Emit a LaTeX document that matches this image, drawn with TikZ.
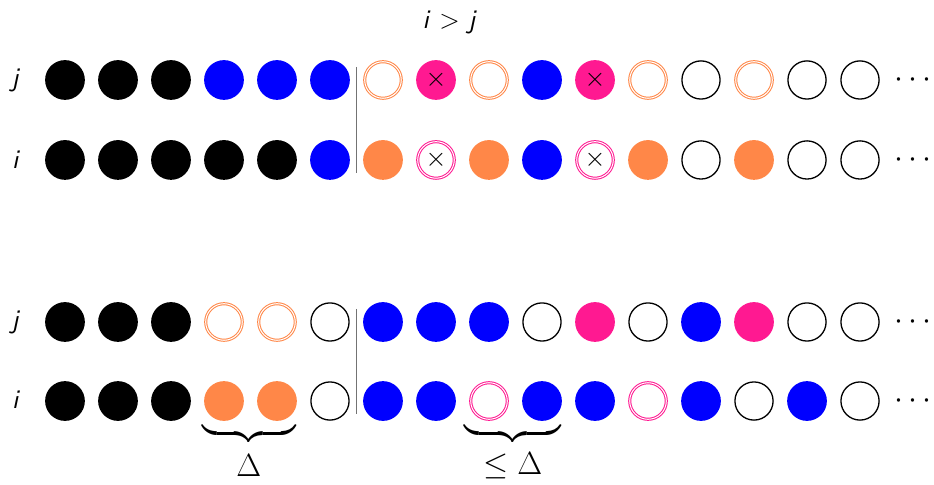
\documentclass[tikz,border=0pt]{standalone}
\usepackage{amsmath}
\definecolor{dotblue}{RGB}{0,0,255}
\definecolor{dotpink}{RGB}{255,25,145}
\definecolor{dotorange}{RGB}{255,135,72}
\tikzset{
  ball/.style={circle, minimum size=0.75cm, inner sep=0pt},
  bk/.style={ball, fill=black},
  bl/.style={ball, fill=dotblue},
  og/.style={ball, fill=dotorange},
  pk/.style={ball, fill=dotpink},
  wh/.style={ball, minimum size=0.72cm, draw=black, line width=0.7pt},
  ogr/.style={ball, minimum size=0.69cm, draw=dotorange, double=white, line width=0.55pt, double distance=0.55pt},
  pkr/.style={ogr, draw=dotpink},
  cross/.style={label={[inner sep=0pt, font=\Large]center:$\times$}},
  pkx/.style={pk, cross},
  pkrx/.style={pkr, cross},
  rowlabel/.style={font=\Large\sffamily\itshape},
  dots/.style={font=\LARGE},
  sep/.style={draw=black!55, line width=1pt},
  brc/.style={font=\LARGE, inner sep=0pt, anchor=north},
}
\begin{document}
\begin{tikzpicture}[x=1cm,y=1cm]
\useasboundingbox (-1.226,-7.623) rectangle (16.396,1.509);
\node[font=\Large] (cond) at (7.26,1.09) {\textsf{\itshape i} $>$ \textsf{\itshape j}};
% upper pair
\node[rowlabel] (lj1) at (-0.94,0) {j};
\node[rowlabel] (li1) at (-0.94,-1.5) {i};
\foreach \s [count=\k from 0] in {bk,bk,bk,bl,bl,bl,ogr,pkx,ogr,bl,pkx,ogr,wh,ogr,wh,wh}
  \node[\s] (tj\k) at (\k,0) {};
\foreach \s [count=\k from 0] in {bk,bk,bk,bk,bk,bl,og,pkrx,og,bl,pkrx,og,wh,og,wh,wh}
  \node[\s] (ti\k) at (\k,-1.509) {};
\node[dots] (tjd) at (16.05,0) {$\cdots$};
\node[dots] (tid) at (16.05,-1.509) {$\cdots$};
\coordinate (s1a) at (5.5,0.245);
\coordinate (s1b) at (5.5,-1.755);
\draw[sep] (s1a) -- (s1b);
% lower pair
\node[rowlabel] (lj2) at (-0.94,-4.566) {j};
\node[rowlabel] (li2) at (-0.94,-6.03) {i};
\foreach \s [count=\k from 0] in {bk,bk,bk,ogr,ogr,wh,bl,bl,bl,wh,pk,wh,bl,pk,wh,wh}
  \node[\s] (bj\k) at (\k,-4.566) {};
\foreach \s [count=\k from 0] in {bk,bk,bk,og,og,wh,bl,bl,pkr,bl,bl,pkr,bl,wh,bl,wh}
  \node[\s] (bi\k) at (\k,-6.057) {};
\node[dots] (bjd) at (16.05,-4.566) {$\cdots$};
\node[dots] (bid) at (16.05,-6.057) {$\cdots$};
\coordinate (s2a) at (5.5,-4.32);
\coordinate (s2b) at (5.5,-6.31);
\draw[sep] (s2a) -- (s2b);
% braces
\node[brc] (b1) at (3.47,-6.52) {$\underbrace{\hspace{1.76cm}}$};
\node[font=\LARGE] (d1) at (3.47,-7.28) {$\Delta$};
\node[brc] (b2) at (8.45,-6.52) {$\underbrace{\hspace{1.83cm}}$};
\node[font=\LARGE] (d2) at (8.45,-7.28) {$\leq\Delta$};
\end{tikzpicture}
\end{document}
